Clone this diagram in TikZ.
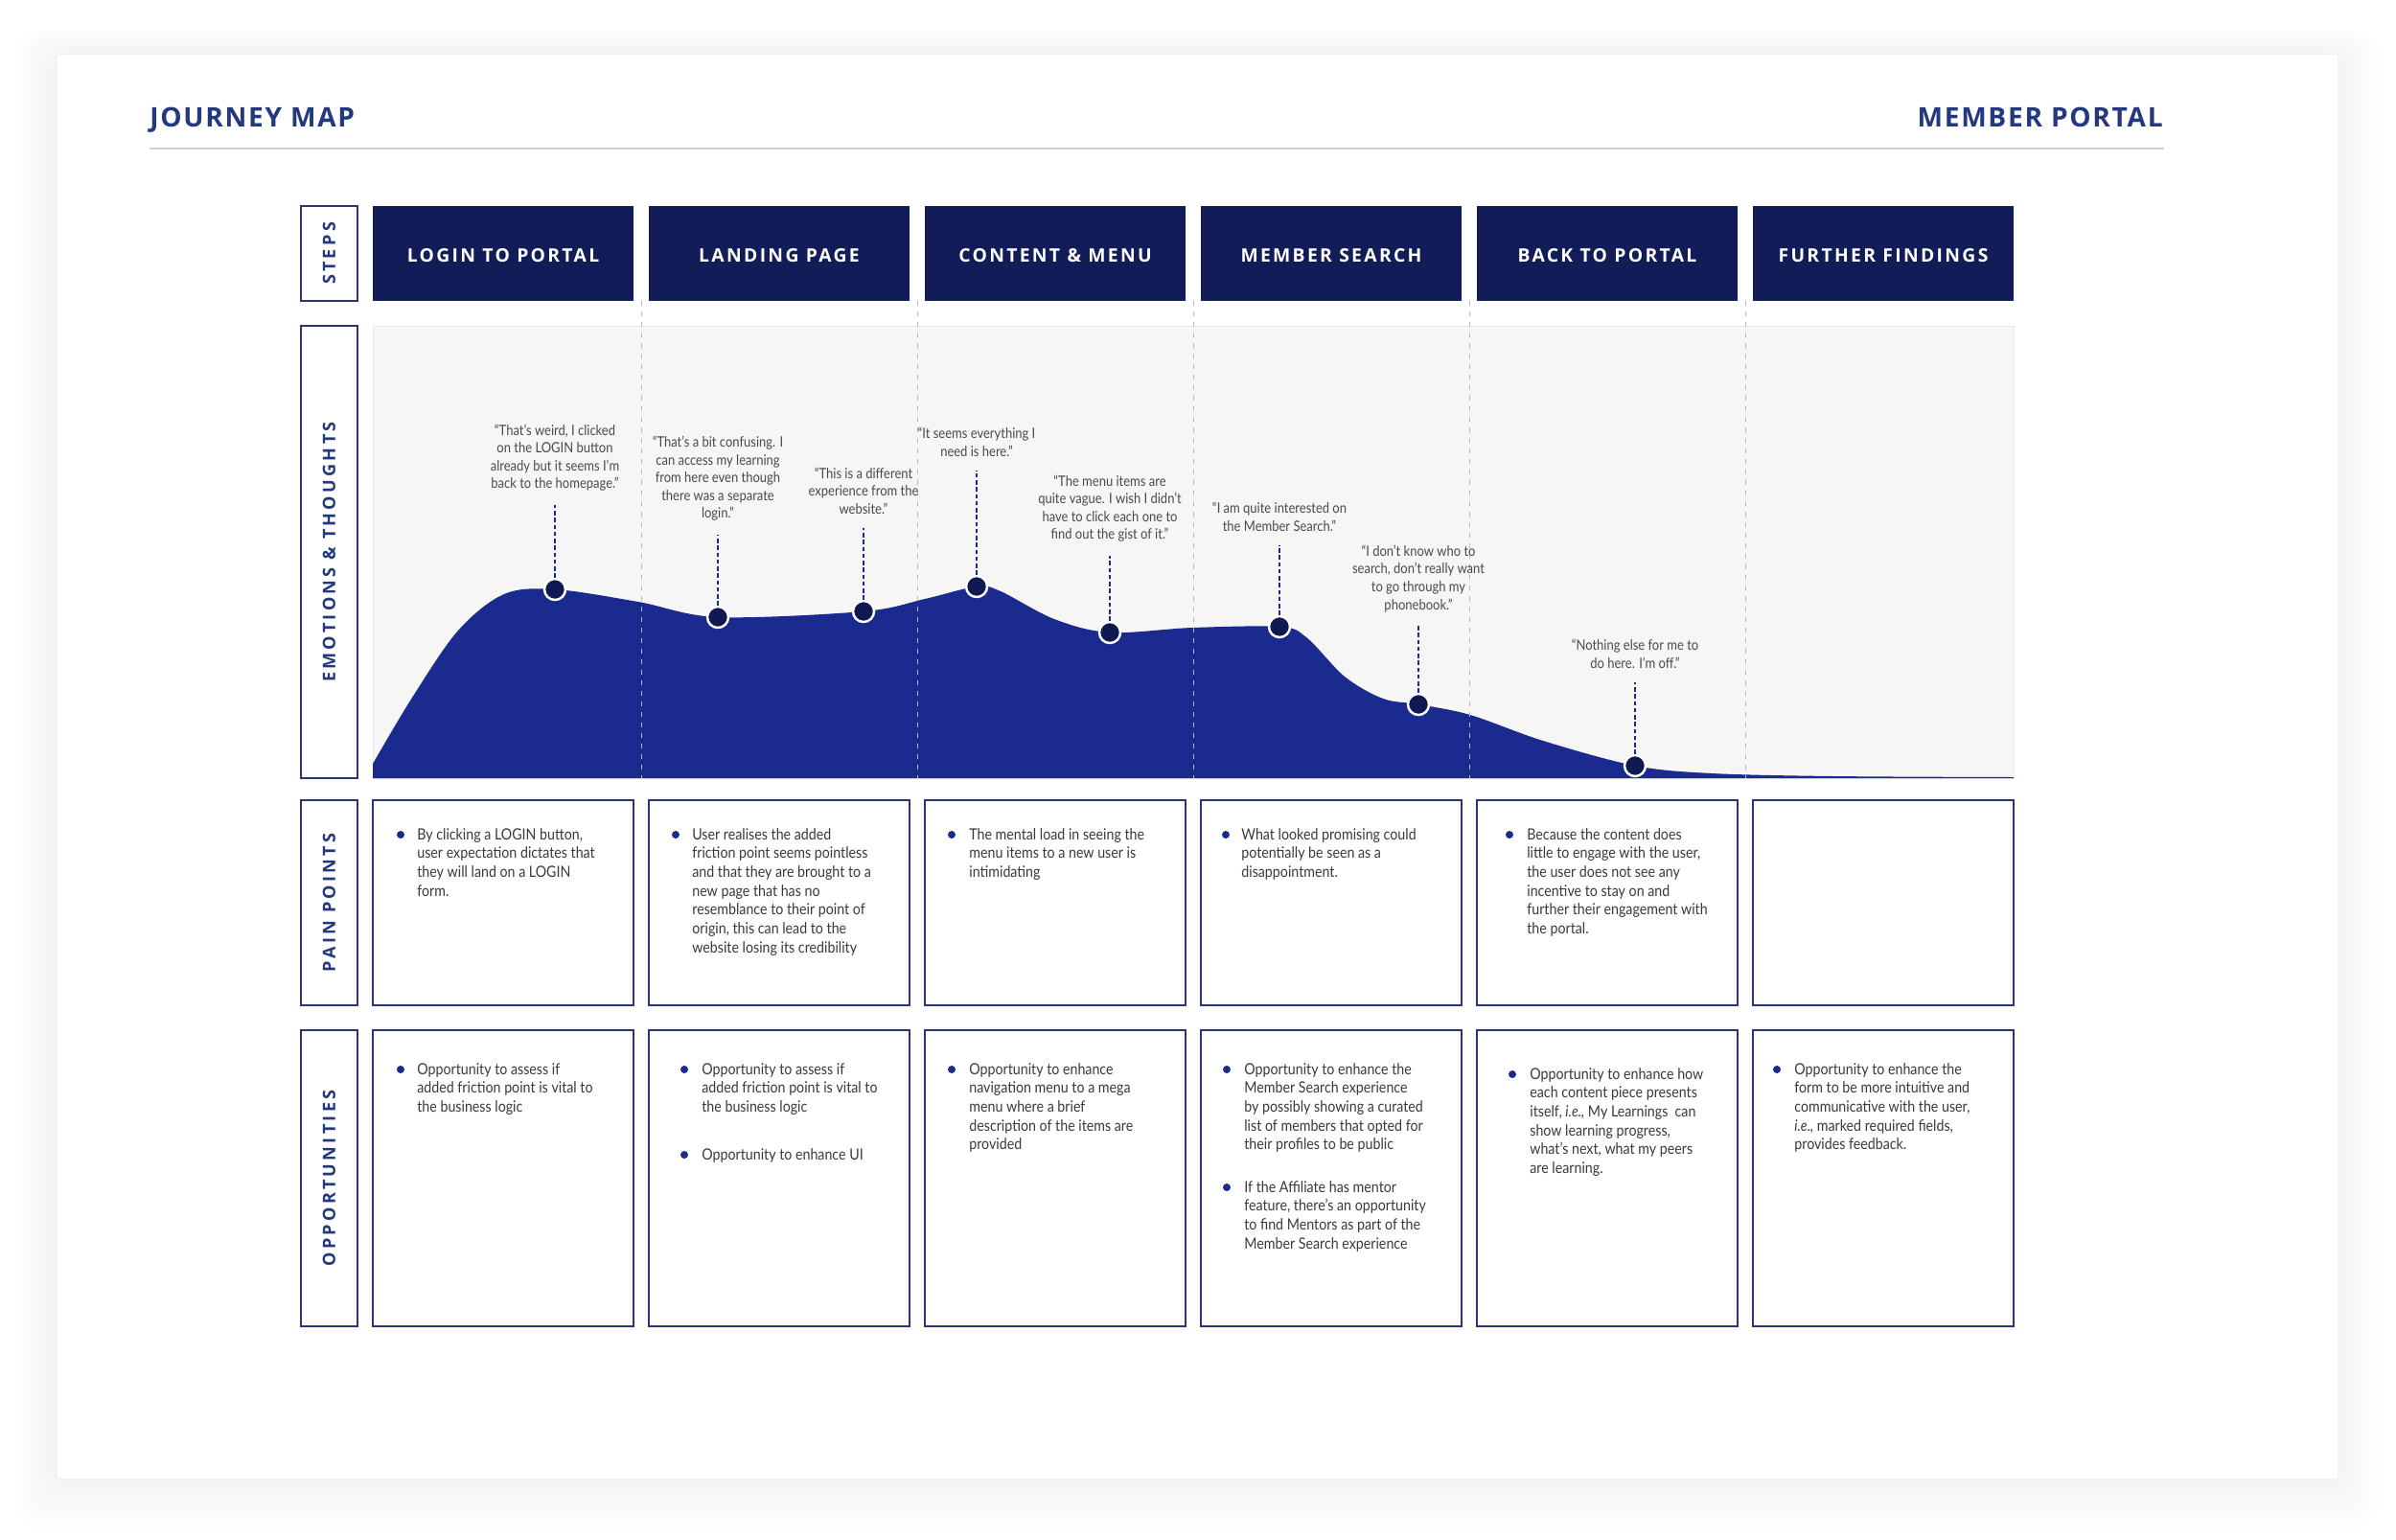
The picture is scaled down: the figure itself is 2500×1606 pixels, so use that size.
\documentclass[tikz,border=0pt]{standalone}
\usepackage{fontspec}
\setmainfont{Lato}
\newfontfamily\quotefont[FakeStretch=0.87]{Lato}
\newfontfamily\bodyfont[FakeStretch=0.88]{Lato}
\newfontfamily\capsfont[LetterSpace=12]{Open Sans}
\newfontfamily\labelfont[LetterSpace=18]{Open Sans}
\newfontfamily\titlefont[LetterSpace=6]{Open Sans}
\usetikzlibrary{positioning}
\definecolor{Navy}{HTML}{111C58}
\definecolor{Royal}{HTML}{1B2A8E}
\definecolor{DotNavy}{HTML}{0F1A52}
\definecolor{TitleBlue}{HTML}{23387F}
\definecolor{FrameNavy}{HTML}{2B3477}
\definecolor{PanelGrey}{HTML}{F6F6F6}
\definecolor{RuleGrey}{HTML}{D0D0D0}
\definecolor{SepGrey}{HTML}{B8B8B8}
\definecolor{QuoteGrey}{HTML}{4A4A4A}
\definecolor{BodyGrey}{HTML}{3A3A3A}

\begin{document}
\begin{tikzpicture}[x=0.02cm, y=-0.02cm,
    every node/.style={inner sep=0pt},
    maptitle/.style={text=TitleBlue, font=\titlefont\bfseries\fontsize{16}{19}\selectfont},
    rowlabel/.style={draw=FrameNavy, line width=1pt, rotate=90, minimum height=1.18cm,
        text=TitleBlue, font=\labelfont\bfseries\fontsize{10.3}{12}\selectfont},
    stephead/.style={fill=Navy, minimum width=5.44cm, minimum height=1.98cm,
        text height=1.0em, text depth=0pt,
        text=white, font=\capsfont\bfseries\fontsize{11}{13}\selectfont},
    painbox/.style={draw=FrameNavy, line width=1pt, fill=white, minimum width=5.44cm, minimum height=4.28cm},
    oppbox/.style={painbox, minimum height=6.18cm},
    emopanel/.style={draw=black!9, fill=PanelGrey, minimum width=34.24cm, minimum height=9.44cm},
    sepline/.style={SepGrey, line width=0.5pt, dash pattern=on 0.1cm off 0.12cm},
    emodot/.style={circle, fill=DotNavy, draw=white, line width=1.4pt, minimum size=0.44cm},
    stem/.style={Royal, line width=1.6pt, dash pattern=on 0.09cm off 0.055cm, shorten >=0.28cm},
    quotetext/.style={align=center, text=QuoteGrey, font=\quotefont\fontsize{8.5}{10.6}\selectfont},
    bodytext/.style={align=left, anchor=north west, text=BodyGrey, font=\bodyfont\fontsize{9.2}{11.2}\selectfont},
    bul/.style={circle, fill=Royal, minimum size=0.16cm},
]
\useasboundingbox (0,0) rectangle (2500,1606);
\fill[white] (0,0) rectangle (2500,1606);

% === Card with soft shadow ===
\foreach \s in {4,8,...,44}
    \fill[black, opacity=0.005, rounded corners=0.5cm] ({59-\s},{56-0.6*\s}) rectangle ({2439+\s},{1543+1.2*\s});
\fill[white] (59,56) rectangle (2439,1543);
\draw[black!6] (59,56) rectangle (2439,1543);

% === Title ===
\node[maptitle, anchor=base west] (title) at (156,132) {JOURNEY MAP};
\node[maptitle, anchor=base east] (portal) at (2257,132) {MEMBER PORTAL};
\draw[RuleGrey, line width=1.1pt] (156,155) -- (2258,155);

% =============================================
% ROW LABELS
% =============================================
\node[rowlabel, minimum width=1.98cm] (lsteps) at (343.5,264.5) {STEPS};
\node[rowlabel, minimum width=9.44cm] (lemo) at (343.5,576) {EMOTIONS \& THOUGHTS};
\node[rowlabel, minimum width=4.28cm] (lpain) at (343.5,942) {PAIN POINTS};
\node[rowlabel, minimum width=6.18cm] (lopp) at (343.5,1229.5) {OPPORTUNITIES};

% =============================================
% STEPS
% =============================================
\node[stephead] (h1) at (525,264.5) {LOGIN TO PORTAL};
\node[stephead] (h2) at (813,264.5) {LANDING PAGE};
\node[stephead] (h3) at (1101,264.5) {CONTENT \& MENU};
\node[stephead] (h4) at (1389,264.5) {MEMBER SEARCH};
\node[stephead] (h5) at (1677,264.5) {BACK TO PORTAL};
\node[stephead] (h6) at (1965,264.5) {FURTHER FINDINGS};

% =============================================
% EMOTIONS & THOUGHTS
% =============================================
\node[emopanel] (emo) at (1245,576) {};

\fill[Royal] (389,812) -- plot[smooth, tension=0.55] coordinates {
    (389,797) (430,728) (478,658) (526,620) (579,615) (666,628) (749,644)
    (901,638) (965,625) (1019,612) (1044,617) (1100,646) (1158,660)
    (1244,655) (1335,654) (1363,665) (1403,706) (1443,729) (1480,735)
    (1534,746) (1610,773) (1706,799) (1786,807) (1913,810) (2101,811)}
    -- (2101,812) -- cycle;

% column separators
\draw[sepline] (669,314) -- (669,812);
\draw[sepline] (957,314) -- (957,812);
\draw[sepline] (1245,314) -- (1245,812);
\draw[sepline] (1533,314) -- (1533,812);
\draw[sepline] (1821,314) -- (1821,812);

% thoughts
\node[quotetext, anchor=south] (q1) at (579,513)
    {“That’s weird, I clicked\\on the LOGIN button\\already but it seems I’m\\back to the homepage.”};
\node[quotetext, anchor=south] (q2) at (749,544)
    {“That’s a bit confusing. I\\can access my learning\\from here even though\\there was a separate\\login.”};
\node[quotetext, anchor=south] (q3) at (901,537)
    {“This is a different\\experience from the\\website.”};
\node[quotetext, anchor=south] (q4) at (1019,477)
    {“It seems everything I\\need is here.”};
\node[quotetext, anchor=south] (q5) at (1158,566)
    {“The menu items are\\quite vague. I wish I didn’t\\have to click each one to\\find out the gist of it.”};
\node[quotetext, anchor=south] (q6) at (1335,555)
    {“I am quite interested on\\the Member Search.”};
\node[quotetext, anchor=south] (q7) at (1480,639)
    {“I don’t know who to\\search, don’t really want\\to go through my\\phonebook.”};
\node[quotetext, anchor=south] (q8) at (1706,698)
    {“Nothing else for me to\\do here. I’m off.”};

% emotion points
\node[emodot] (d1) at (579,615) {};
\node[emodot] (d2) at (749,644) {};
\node[emodot] (d3) at (901,638) {};
\node[emodot] (d4) at (1019,612) {};
\node[emodot] (d5) at (1158,660) {};
\node[emodot] (d6) at (1335,654) {};
\node[emodot] (d7) at (1480,735) {};
\node[emodot] (d8) at (1706,799) {};

\draw[stem] (d1) -- (q1);
\draw[stem] (d2) -- (q2);
\draw[stem] (d3) -- (q3);
\draw[stem] (d4) -- (q4);
\draw[stem] (d5) -- (q5);
\draw[stem] (d6) -- (q6);
\draw[stem] (d7) -- (q7);
\draw[stem] (d8) -- (q8);

% =============================================
% PAIN POINTS
% =============================================
\node[painbox] (p1) at (525,942) {};
\node[painbox] (p2) at (813,942) {};
\node[painbox] (p3) at (1101,942) {};
\node[painbox] (p4) at (1389,942) {};
\node[painbox] (p5) at (1677,942) {};
\node[painbox] (p6) at (1965,942) {};

\node[bul] (pb1) at (418,871) {};
\node[bodytext] (pt1) at (435,864)
    {By clicking a LOGIN button,\\user expectation dictates that\\they will land on a LOGIN\\form.};
\node[bul] (pb2) at (705,871) {};
\node[bodytext] (pt2) at (722,864)
    {User realises the added\\friction point seems pointless\\and that they are brought to a\\new page that has no\\resemblance to their point of\\origin, this can lead to the\\website losing its credibility};
\node[bul] (pb3) at (993,871) {};
\node[bodytext] (pt3) at (1011,864)
    {The mental load in seeing the\\menu items to a new user is\\intimidating};
\node[bul] (pb4) at (1279,871) {};
\node[bodytext] (pt4) at (1295,864)
    {What looked promising could\\potentially be seen as a\\disappointment.};
\node[bul] (pb5) at (1575,871) {};
\node[bodytext] (pt5) at (1593,864)
    {Because the content does\\little to engage with the user,\\the user does not see any\\incentive to stay on and\\further their engagement with\\the portal.};

% =============================================
% OPPORTUNITIES
% =============================================
\node[oppbox] (o1) at (525,1229.5) {};
\node[oppbox] (o2) at (813,1229.5) {};
\node[oppbox] (o3) at (1101,1229.5) {};
\node[oppbox] (o4) at (1389,1229.5) {};
\node[oppbox] (o5) at (1677,1229.5) {};
\node[oppbox] (o6) at (1965,1229.5) {};

\node[bul] (ob1) at (418,1116) {};
\node[bodytext] (ot1) at (435,1109)
    {Opportunity to assess if\\added friction point is vital to\\the business logic};
\node[bul] (ob2) at (714,1116) {};
\node[bodytext] (ot2) at (732,1109)
    {Opportunity to assess if\\added friction point is vital to\\the business logic};
\node[bul] (ob2b) at (714,1205) {};
\node[bodytext] (ot2b) at (732,1198) {Opportunity to enhance UI};
\node[bul] (ob3) at (993,1116) {};
\node[bodytext] (ot3) at (1011,1109)
    {Opportunity to enhance\\navigation menu to a mega\\menu where a brief\\description of the items are\\provided};
\node[bul] (ob4) at (1280,1116) {};
\node[bodytext] (ot4) at (1298,1109)
    {Opportunity to enhance the\\Member Search experience\\by possibly showing a curated\\list of members that opted for\\their profiles to be public};
\node[bul] (ob4b) at (1280,1239) {};
\node[bodytext] (ot4b) at (1298,1232)
    {If the Affiliate has mentor\\feature, there’s an opportunity\\to find Mentors as part of the\\Member Search experience};
\node[bul] (ob5) at (1578,1121) {};
\node[bodytext] (ot5) at (1596,1114)
    {Opportunity to enhance how\\each content piece presents\\itself, \textit{i.e.,} My Learnings~ can\\show learning progress,\\what’s next, what my peers\\are learning.};
\node[bul] (ob6) at (1854,1116) {};
\node[bodytext] (ot6) at (1872,1109)
    {Opportunity to enhance the\\form to be more intuitive and\\communicative with the user,\\\textit{i.e.,} marked required fields,\\provides feedback.};

\end{tikzpicture}
\end{document}
